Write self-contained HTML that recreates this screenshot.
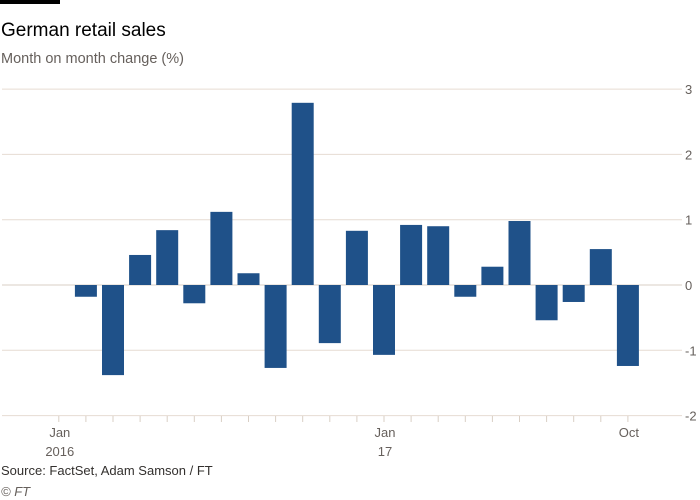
<!DOCTYPE html>
<html><head><meta charset="utf-8"><style>
body{margin:0;background:#fff;font-family:"Liberation Sans",sans-serif;}
#wrap{position:relative;width:700px;height:500px;overflow:hidden;}
</style></head><body>
<div id="wrap">
<svg id="svg" width="700" height="500">
<rect x="0" y="0" width="60" height="4" fill="#000"/>
<text x="1" y="36" font-size="19" fill="#000">German retail sales</text>
<text x="1" y="63" font-size="14.5" fill="#66605c">Month on month change (%)</text>
<g id="grid"></g><g id="bars"></g><g id="xax"></g>
<text x="1" y="475" font-size="13" fill="#33302e">Source: FactSet, Adam Samson / FT</text>
<text x="1" y="496" font-size="13" font-style="italic" fill="#66605c">© FT</text>
</svg></div>
<script>
const months = ["Feb16","Mar16","Apr16","May16","Jun16","Jul16","Aug16","Sep16","Oct16","Nov16","Dec16","Jan17","Feb17","Mar17","Apr17","May17","Jun17","Jul17","Aug17","Sep17","Oct17"];
const values = [-0.18,-1.38,0.46,0.84,-0.28,1.12,0.18,-1.27,2.79,-0.89,0.83,-1.07,0.92,0.90,-0.18,0.28,0.98,-0.54,-0.26,0.55,-1.24];
const yTicks = [3,2,1,0,-1,-2];
const xTickLabels = [{i:0,a:"Jan",b:"2016"},{i:12,a:"Jan",b:"17"},{i:21,a:"Oct",b:""}];
const NS="http://www.w3.org/2000/svg";
function y(v){return 285-v*65.3;}
function x(i){return 58.8+i*27.1;} // i = month index from Jan 2016
function mk(t,a,p){const e=document.createElementNS(NS,t);for(const k in a)e.setAttribute(k,a[k]);p.appendChild(e);return e;}
const g=document.getElementById('grid');
yTicks.forEach(v=>{
 const l=mk('line',{x1:2,x2:682,y1:y(v),y2:y(v),stroke:v===0?'#d9cfc5':'#e6dcd2','stroke-width':1},g);
 
 
 const t=mk('text',{x:685,y:y(v)+5,'font-size':13,fill:'#66605c'},g);
 t.textContent=v<0?'-'+Math.abs(v):String(v);
 
 
});
const b=document.getElementById('bars');
values.forEach((v,k)=>{
 const cx=x(k+1);
 const r=mk('rect',{x:cx-11,width:22,y:Math.min(y(v),y(0)),height:Math.abs(y(v)-y(0)),fill:'#1f5189'},b);
 
 
});
const xa=document.getElementById('xax');
for(let i=0;i<=21;i++){
 const l=mk('line',{x1:x(i),x2:x(i),y1:416,y2:422,stroke:'#d9cfc5'},xa);
 
 
}
xTickLabels.forEach(o=>{
 const t=mk('text',{x:x(o.i)+1,y:437,'font-size':13,fill:'#66605c','text-anchor':'middle'},xa);
 t.textContent=o.a;
 
 
 if(o.b){const t2=mk('text',{x:x(o.i)+1,y:456,'font-size':13,fill:'#66605c','text-anchor':'middle'},xa);
 t2.textContent=o.b;
 
 }
});
</script>
</body></html>
